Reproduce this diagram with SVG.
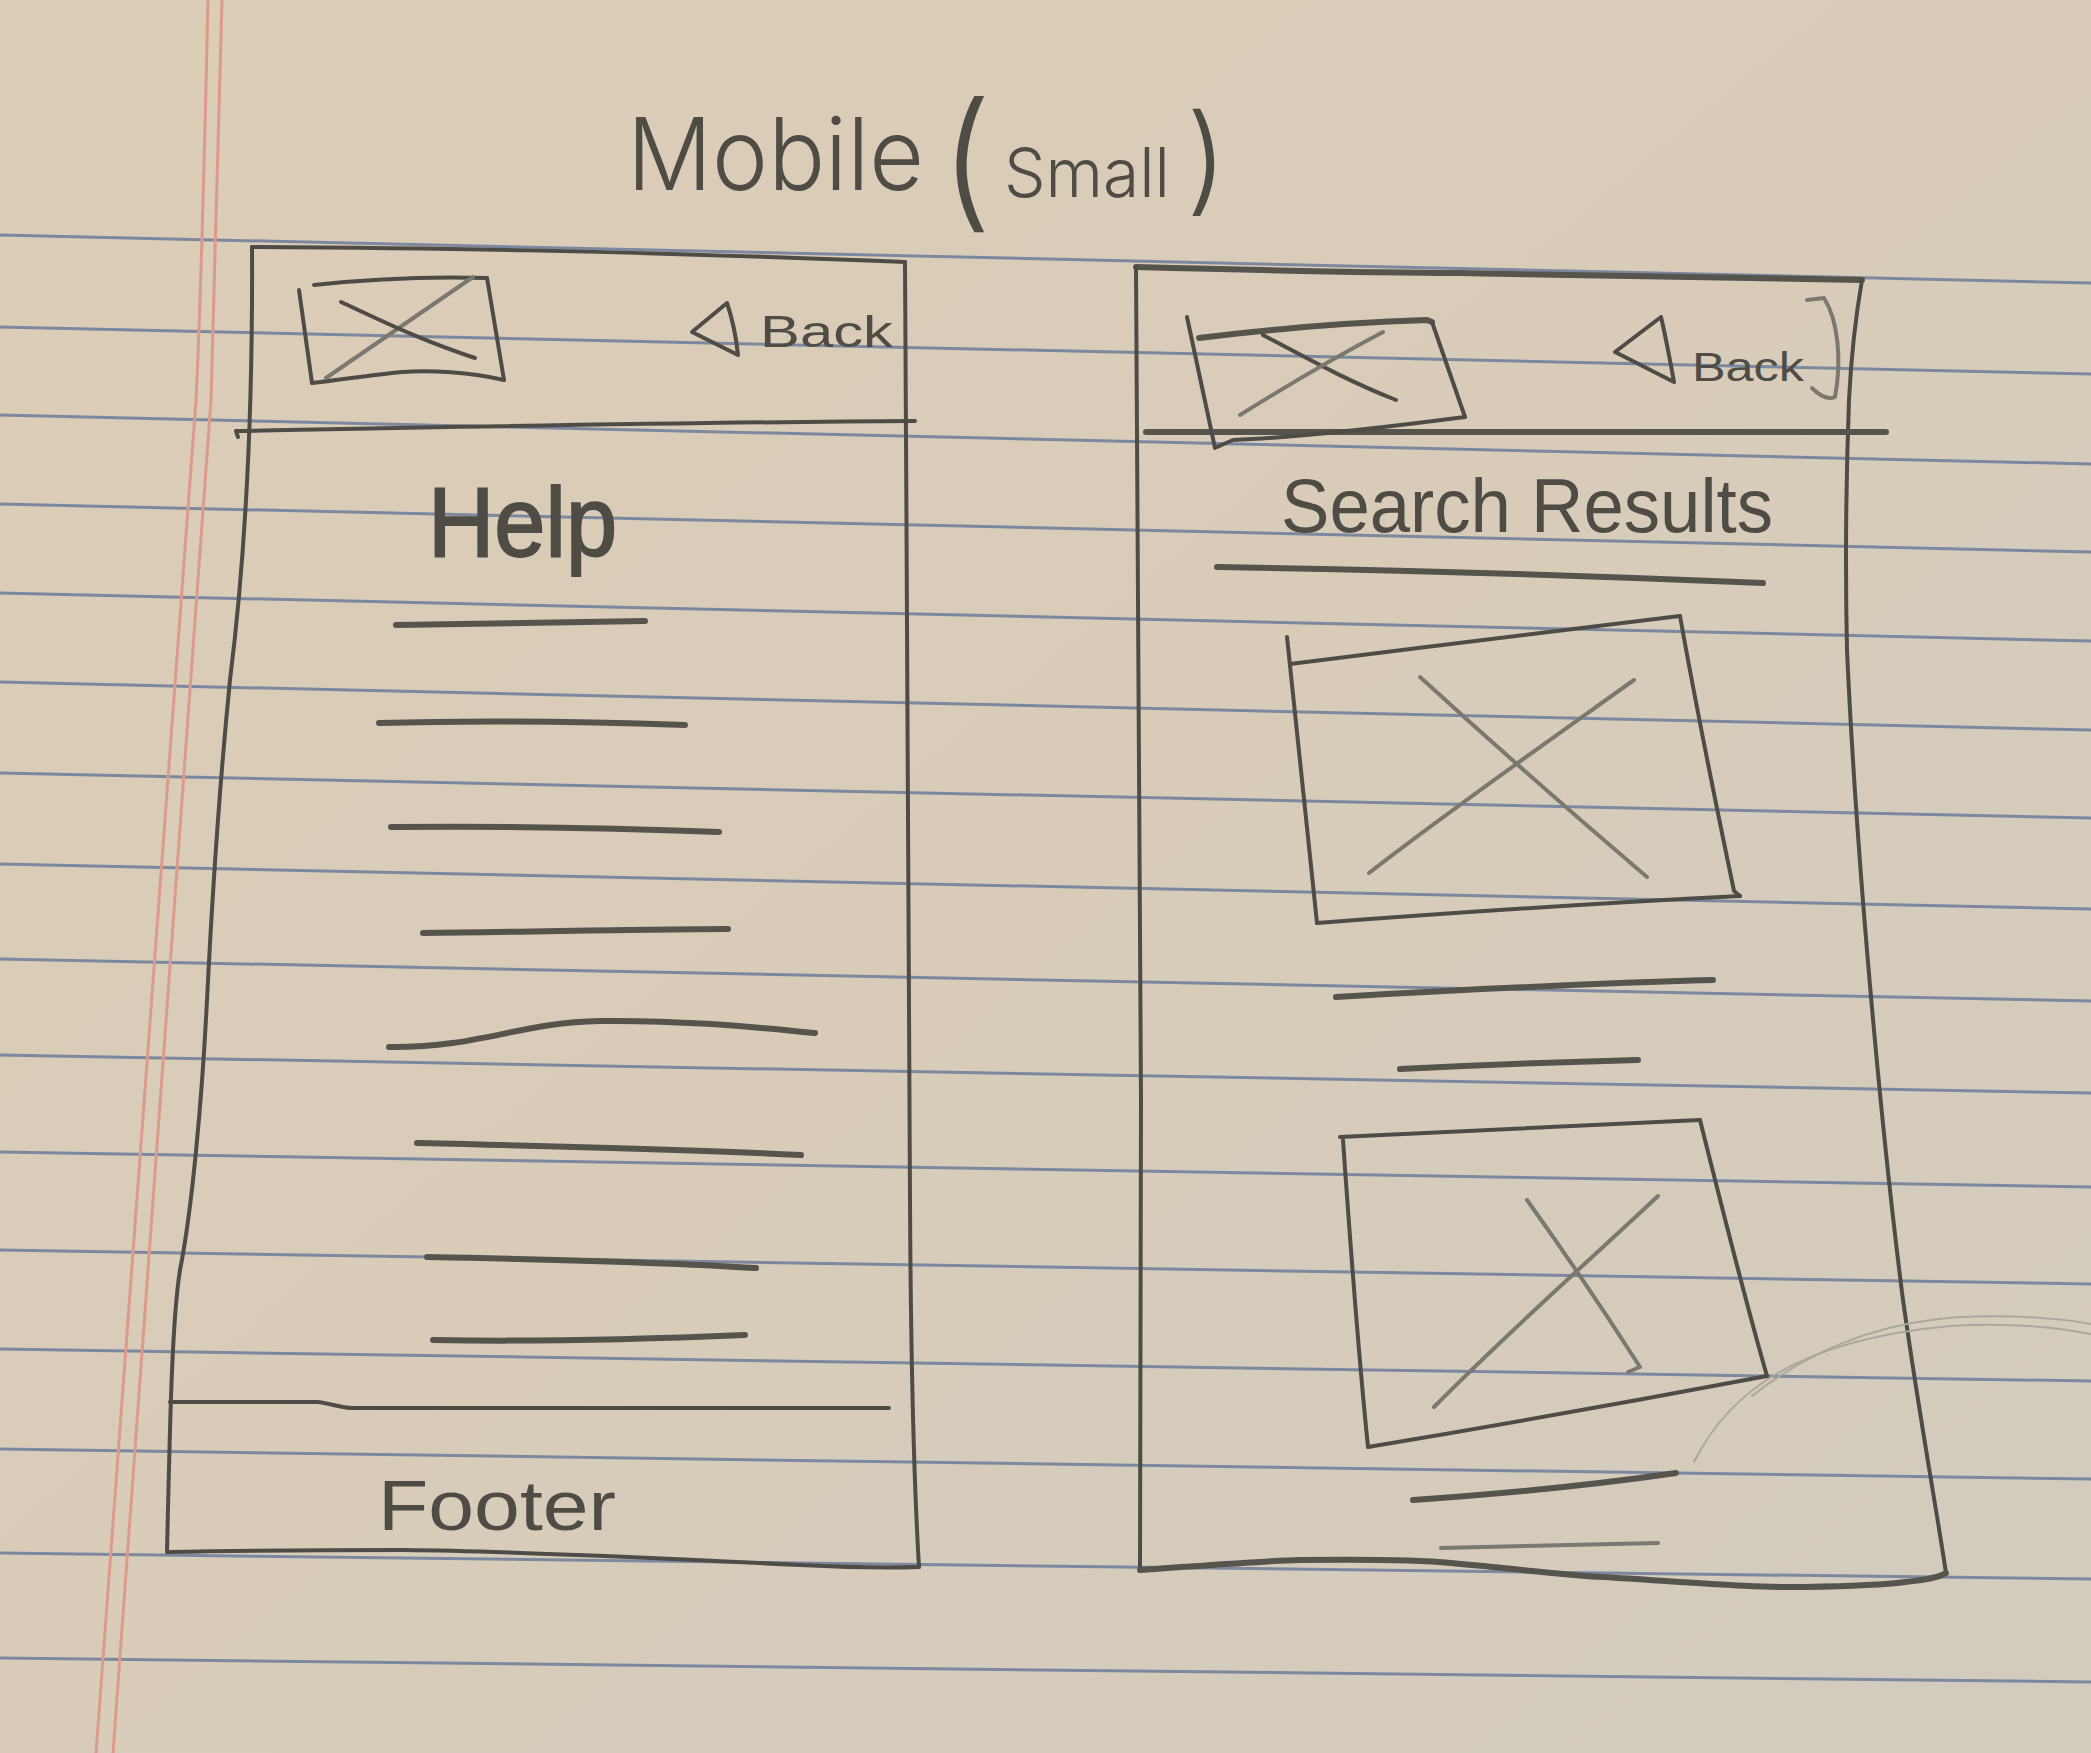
<svg xmlns="http://www.w3.org/2000/svg" width="2091" height="1753" viewBox="0 0 2091 1753">
  <defs>
    <linearGradient id="paper" x1="0" y1="0" x2="1" y2="1">
      <stop offset="0" stop-color="#dccdb6"/>
      <stop offset="0.5" stop-color="#d8ccb9"/>
      <stop offset="1" stop-color="#d2cbbe"/>
    </linearGradient>
    <style>
      .rule { fill: none; stroke: #7c88a0; stroke-width: 3; }
      .margin { fill: none; stroke: #dc9a8d; stroke-width: 3; }
      .pen { fill: none; stroke: #4f4c47; stroke-width: 4; stroke-linecap: round; stroke-linejoin: round; }
      .pen-thick { fill: none; stroke: #57544e; stroke-width: 6; stroke-linecap: round; stroke-linejoin: round; }
      .pen-light { fill: none; stroke: #7b7870; stroke-width: 4; stroke-linecap: round; stroke-linejoin: round; }
      .faint { fill: none; stroke: #aca79d; stroke-width: 2; stroke-linecap: round; }
      .hand { font-family: "Liberation Sans", "DejaVu Sans", sans-serif; fill: #4f4c46; }
      .hand-thin { font-family: Inter, "Liberation Sans", sans-serif; font-weight: 300; fill: #4f4c46; }
    </style>
  </defs>

  <!-- paper -->
  <rect x="0" y="0" width="2091" height="1753" fill="url(#paper)"/>

  <!-- ruled lines -->
  <g id="ruling">
    <path class="rule" d="M0,235 L2091,283"/>
    <path class="rule" d="M0,327 L2091,374"/>
    <path class="rule" d="M0,415 L2091,464"/>
    <path class="rule" d="M0,504 L2091,552"/>
    <path class="rule" d="M0,593 L2091,641"/>
    <path class="rule" d="M0,682 L2091,730"/>
    <path class="rule" d="M0,773 L2091,818"/>
    <path class="rule" d="M0,864 L2091,909"/>
    <path class="rule" d="M0,959 L2091,1001"/>
    <path class="rule" d="M0,1055 L2091,1093"/>
    <path class="rule" d="M0,1152 L2091,1187"/>
    <path class="rule" d="M0,1250 L2091,1284"/>
    <path class="rule" d="M0,1349 L2091,1381"/>
    <path class="rule" d="M0,1449 L2091,1479"/>
    <path class="rule" d="M0,1553 L2091,1579"/>
    <path class="rule" d="M0,1658 L2091,1682"/>
    <path class="margin" d="M208,0 C204,180 200,320 196,400 L96,1753"/>
    <path class="margin" d="M222,0 C218,180 214,320 211,400 L113,1753"/>
  </g>

  <!-- page title -->
  <g id="title">
    <text class="hand-thin"><tspan x="627" y="190" font-size="100" textLength="297" lengthAdjust="spacingAndGlyphs">Mobile</tspan><tspan x="940" y="212" font-size="150">(</tspan><tspan x="1004" y="197" font-size="68" textLength="166" lengthAdjust="spacingAndGlyphs">Small</tspan><tspan x="1186" y="200" font-size="118">)</tspan></text>
  </g>

  <!-- help screen -->
  <g id="screen-help">
    <path class="pen" d="M252,247 C420,248 600,250 905,262"/>
    <path class="pen" d="M905,262 C907,600 909,1000 910,1200 C911,1400 915,1500 919,1567"/>
    <path class="pen" d="M919,1567 C890,1568 860,1568 800,1565 C700,1560 500,1551 404,1550 C300,1550 220,1551 167,1552"/>
    <path class="pen" d="M252,247 C253,420 245,560 230,680 C220,780 212,900 207,1000 C202,1100 192,1210 180,1270 C172,1320 170,1420 167,1552"/>
    <path class="pen" d="M238,437 L236,431 C400,428 700,422 915,421"/>
    <g id="help-logo">
      <path class="pen" d="M299,290 L312,383"/>
      <path class="pen" d="M314,285 C360,280 420,276 487,278"/>
      <path class="pen" d="M487,278 L504,380"/>
      <path class="pen" d="M504,380 C470,372 430,370 402,372 C370,375 340,380 312,383"/>
      <path class="pen-light" d="M473,277 L326,378"/>
      <path class="pen" d="M341,302 C380,320 420,340 475,358"/>
    </g>
    <g id="help-back">
      <path class="pen" d="M727,303 L692,332 L738,355 C736,335 732,318 727,303 Z"/>
      <text class="hand" font-size="44" x="760" y="347" textLength="133" lengthAdjust="spacingAndGlyphs">Back</text>
    </g>
    <text class="hand" font-size="98" x="428" y="556" textLength="189" lengthAdjust="spacingAndGlyphs" stroke="#4f4c46" stroke-width="2">Help</text>
    <g id="help-items">
      <path class="pen-thick" d="M396,625 L645,621"/>
      <path class="pen-thick" d="M379,723 C480,720 600,722 685,725"/>
      <path class="pen-thick" d="M391,827 C500,826 620,828 719,832"/>
      <path class="pen-thick" d="M423,933 C530,932 640,929 728,929"/>
      <path class="pen-thick" d="M389,1047 C480,1048 520,1022 600,1021 C690,1020 760,1028 815,1033"/>
      <path class="pen-thick" d="M417,1143 C550,1146 700,1150 801,1155"/>
      <path class="pen-thick" d="M427,1257 C540,1259 660,1262 756,1268"/>
      <path class="pen-thick" d="M433,1340 C540,1342 650,1339 745,1335"/>
    </g>
    <path class="pen" d="M170,1402 L317,1402 C330,1403 340,1408 353,1408 L889,1408"/>
    <text class="hand" font-size="70" x="378" y="1530" textLength="238" lengthAdjust="spacingAndGlyphs">Footer</text>
  </g>

  <!-- search results screen -->
  <g id="screen-search">
    <path class="pen-thick" d="M1136,267 C1250,270 1400,273 1457,273 C1600,276 1750,278 1862,280"/>
    <path class="pen" d="M1862,280 C1855,320 1851,360 1849,400 C1846,480 1845,560 1847,650 C1856,850 1880,1120 1903,1300 C1920,1420 1935,1500 1946,1573"/>
    <path class="pen" d="M1136,267 C1139,500 1141,800 1141,1100 C1141,1350 1140,1500 1140,1570"/>
    <path class="pen-thick" d="M1140,1570 C1200,1566 1260,1561 1300,1560 C1380,1559 1420,1560 1451,1563 C1520,1569 1560,1575 1603,1577 C1700,1583 1760,1588 1805,1587 C1860,1586 1890,1584 1905,1582 C1925,1580 1938,1578 1946,1573"/>
    <path class="pen-thick" d="M1146,432 C1400,431 1650,431 1886,432"/>
    <g id="search-logo">
      <path class="pen" d="M1187,317 L1215,448"/>
      <path class="pen-thick" d="M1199,338 C1280,328 1360,322 1427,320 L1432,322"/>
      <path class="pen" d="M1432,322 L1465,417"/>
      <path class="pen" d="M1465,417 C1380,428 1290,438 1233,440 L1217,447"/>
      <path class="pen" d="M1263,335 C1310,360 1350,382 1396,400"/>
      <path class="pen-light" d="M1383,332 C1330,360 1280,390 1240,415"/>
    </g>
    <g id="search-back">
      <path class="pen" d="M1661,317 L1615,352 L1674,382 C1670,360 1666,338 1661,317 Z"/>
      <text class="hand" font-size="40" x="1692" y="381" textLength="112" lengthAdjust="spacingAndGlyphs">Back</text>
      <path class="pen-light" d="M1807,300 L1824,298 C1838,320 1842,360 1835,397 C1828,400 1820,396 1812,388" stroke-width="3"/>
    </g>
    <text class="hand" font-size="76" x="1281" y="532" textLength="492" lengthAdjust="spacingAndGlyphs">Search Results</text>
    <path class="pen-thick" d="M1217,567 C1400,570 1600,576 1763,583"/>
    <g id="result-1">
      <path class="pen" d="M1287,637 L1317,923"/>
      <path class="pen" d="M1290,664 C1420,648 1560,630 1680,616"/>
      <path class="pen" d="M1680,616 C1695,700 1715,800 1734,891 L1740,896"/>
      <path class="pen" d="M1740,896 C1600,903 1450,913 1317,923"/>
      <path class="pen-light" d="M1420,677 C1500,750 1580,820 1647,877"/>
      <path class="pen-light" d="M1634,680 C1550,740 1450,810 1369,873"/>
      <path class="pen-thick" d="M1336,997 C1460,990 1600,983 1713,980"/>
      <path class="pen-thick" d="M1400,1069 C1480,1065 1560,1062 1638,1060"/>
    </g>
    <g id="result-2">
      <path class="pen" d="M1343,1140 C1350,1240 1358,1350 1368,1447"/>
      <path class="pen" d="M1340,1137 C1460,1131 1580,1125 1700,1120"/>
      <path class="pen" d="M1700,1120 C1720,1200 1745,1300 1767,1376"/>
      <path class="pen" d="M1767,1376 C1640,1400 1500,1425 1368,1447"/>
      <path class="pen-light" d="M1434,1407 C1510,1330 1590,1260 1658,1196"/>
      <path class="pen-light" d="M1527,1200 C1570,1260 1610,1320 1640,1367 L1628,1372"/>
      <path class="pen-thick" d="M1413,1500 C1500,1494 1600,1484 1676,1473"/>
      <path class="pen-light" d="M1441,1548 C1520,1546 1600,1544 1658,1543" stroke-width="6"/>
    </g>
  </g>

  <!-- stray faint pencil arcs -->
  <g id="stray-marks">
    <path class="faint" d="M1694,1462 C1730,1390 1800,1340 1950,1326 C2010,1322 2060,1328 2091,1334"/>
    <path class="faint" d="M1752,1396 C1810,1350 1880,1322 1960,1317 C2020,1314 2070,1320 2091,1324"/>
  </g>
</svg>
